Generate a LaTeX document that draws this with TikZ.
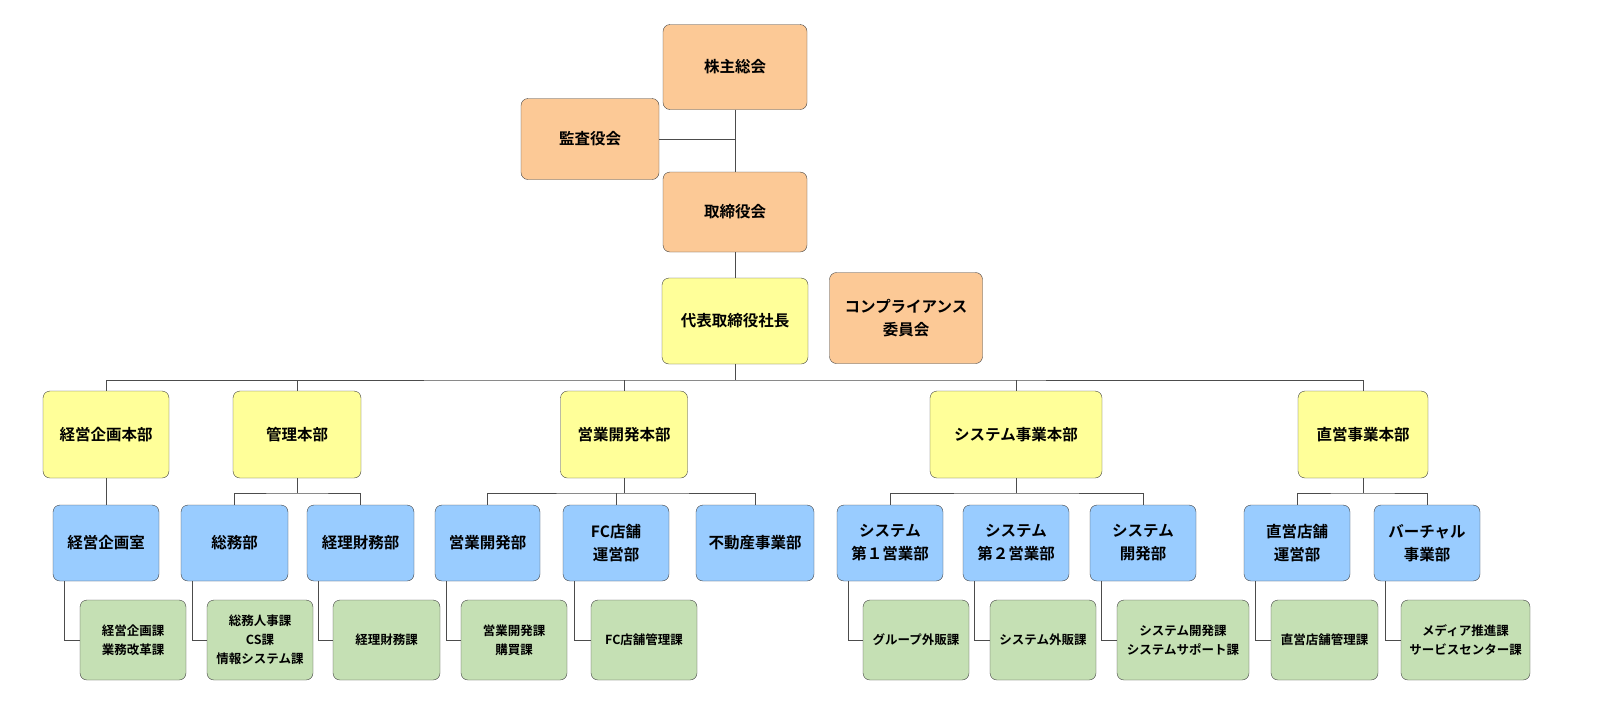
\documentclass[tikz,border=0pt]{standalone}
\usepackage{fontspec}
\newfontfamily\cjk{Noto Sans CJK JP}[BoldFont={* Bold}]
\begin{document}
\begin{tikzpicture}[x=1pt,y=-1pt,
 box/.style={draw=black!75,rounded corners=7pt,align=center,font=\cjk\bfseries\fontsize{15.5}{23}\selectfont,inner sep=0pt},
 org/.style={box},
 yel/.style={box},
 blu/.style={box},
 grn/.style={box,font=\cjk\bfseries\fontsize{12.5}{19}\selectfont},
 ln/.style={draw=black!70,line width=0.7pt}]
\useasboundingbox (0,0) rectangle (1612,713);
\definecolor{o}{HTML}{FCC996}\definecolor{y}{HTML}{FFFF99}\definecolor{b}{HTML}{99CCFF}\definecolor{g}{HTML}{C5E0B4}
\tikzset{org/.append style={fill=o},yel/.append style={fill=y},blu/.append style={fill=b},grn/.append style={fill=g}}
% level 0
\node[org,minimum width=144,minimum height=85] (kabu) at (735,67) {株主総会};
\node[org,minimum width=138,minimum height=81] (kansa) at (590,139) {監査役会};
\node[org,minimum width=144,minimum height=80] (tori) at (735,212) {取締役会};
\node[yel,minimum width=146,minimum height=86] (ceo) at (735,321) {代表取締役社長};
\node[org,minimum width=153,minimum height=91] (comp) at (906,318) {コンプライアンス\\委員会};
\draw[ln] (kabu) -- (tori);
\draw[ln] (kansa.east) -- (735,139);
\draw[ln] (tori) -- (ceo);
% level 2
\foreach \n/\t/\x/\w in {h1/経営企画本部/106/126, h2/管理本部/297/128, h3/営業開発本部/624/127, h4/システム事業本部/1016/172, h5/直営事業本部/1363/130}
 {\node[yel,minimum width=\w,minimum height=87] (\n) at (\x,434.5) {\t};}
\coordinate (bus) at (735,380);
\draw[ln] (ceo.south) -- (bus);
\draw[ln] (h1.north) |- (bus) -| (h5.north);
\foreach \n in {h2,h3,h4} {\draw[ln] (\n.north) -- (\n.north|-bus);}
% level 3
\foreach \n/\t/\x/\w in {b1/経営企画室/106/106, b2/総務部/234.5/107, b3/経理財務部/360.5/107, b4/営業開発部/487.5/105, b5/FC店舗\\運営部/616/106, b6/不動産事業部/755/118, b7/システム\\第１営業部/890/106, b8/システム\\第２営業部/1016/106, b9/システム\\開発部/1143/106, b10/直営店舗\\運営部/1297/106, b11/バーチャル\\事業部/1427/106}
 {\node[blu,minimum width=\w,minimum height=76] (\n) at (\x,543) {\t};}
\draw[ln] (h1) -- (b1);
\draw[ln] (h2.south) -- (297,493) coordinate (s2); \draw[ln] (b2.north) |- (s2) -| (b3.north);
\draw[ln] (h3.south) -- (624,493) coordinate (s3); \draw[ln] (b4.north) |- (s3) -| (b6.north); \draw[ln] (b5.north) -- (b5.north|-s3);
\draw[ln] (h4.south) -- (1016,493) coordinate (s4); \draw[ln] (b7.north) |- (s4) -| (b9.north);
\draw[ln] (h5.south) -- (1363,493) coordinate (s5); \draw[ln] (b10.north) |- (s5) -| (b11.north);
% level 4
\foreach \n/\t/\x/\w/\b in {g1/経営企画課\\業務改革課/133/106/b1, g2/総務人事課\\CS課\\情報システム課/260/106/b2, g3/経理財務課/386.5/107/b3, g4/営業開発課\\購買課/514/106/b4, g5/FC店舗管理課/644/106/b5, g7/グループ外販課/916/106/b7, g8/システム外販課/1043/106/b8, g9/システム開発課\\システムサポート課/1183/132/b9, g10/直営店舗管理課/1324.5/107/b10, g11/メディア推進課\\サービスセンター課/1465.5/129/b11}
 {\node[grn,minimum width=\w,minimum height=80] (\n) at (\x,640) {\t};
  \draw[ln] ([xshift=12pt]\b.south west) |- (\n.west);}
\end{tikzpicture}
\end{document}
